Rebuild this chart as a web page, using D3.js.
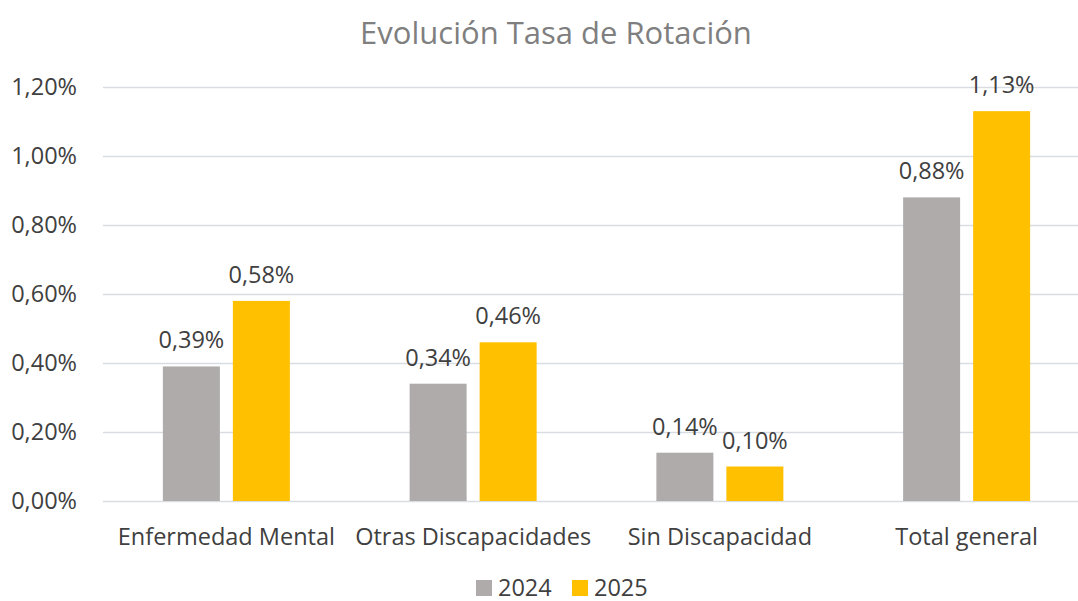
<!DOCTYPE html>
<html>
<head>
<meta charset="utf-8">
<script src="https://cdn.jsdelivr.net/npm/d3@7"></script>
<style>
  body { margin: 0; background: #fff; }
  svg { display: block; }
  svg text { font-family: "Open Sans", sans-serif; }
</style>
</head>
<body>
<div id="chart"></div>
<script>
// data
const categories = ["Enfermedad Mental", "Otras Discapacidades", "Sin Discapacidad", "Total general"];
const years = ["2024", "2025"];
const values2024 = [0.39, 0.34, 0.14, 0.88];
const values2025 = [0.58, 0.46, 0.10, 1.13];
const yTicks = [0, 0.2, 0.4, 0.6, 0.8, 1.0, 1.2];
const colors = ["#afabab", "#ffc000"];

const width = 1078, height = 601;
const margin = {top: 87, left: 103, right: -12, bottom: 100};

const rows = categories.map((c, i) => ({cat: c, vals: [values2024[i], values2025[i]]}));
const fmt = v => d3.format(".2f")(v).replace(".", ",") + "%";

const svg = d3.select("#chart").append("svg")
    .attr("width", width)
    .attr("height", height);

const y = d3.scaleLinear()
    .domain([0, 1.2])
    .range([height - margin.bottom, margin.top]);

const x0 = d3.scaleBand()
    .domain(categories)
    .range([margin.left, width - margin.right]);

const x1 = d3.scaleBand()
    .domain(years)
    .range([-63.5, 63.5])
    .paddingInner(0.1857);

// title
svg.append("text")
    .attr("x", 556)
    .attr("y", 44)
    .attr("text-anchor", "middle")
    .attr("fill", "#7f7f7f")
    .style("font-size", "31px")
    .text("Evolución Tasa de Rotación");

// gridlines + y labels
const yAxis = svg.append("g")
    .attr("transform", `translate(${margin.left},0)`)
    .call(d3.axisLeft(y).tickValues(yTicks).tickFormat(fmt)
        .tickSize(-(width - margin.right - margin.left)).tickPadding(26));
yAxis.select(".domain").remove();
yAxis.selectAll("line").attr("stroke", "#d9dde2").attr("stroke-width", 1.5);
yAxis.selectAll("text")
    .attr("fill", "#404040")
    .style("font-family", "'Open Sans', sans-serif")
    .style("font-size", "23.5px");

// bars
const group = svg.selectAll("g.cat")
    .data(rows)
    .enter().append("g")
      .attr("class", "cat")
      .attr("transform", d => `translate(${x0(d.cat) + x0.bandwidth() / 2},0)`);

const bar = group.selectAll("g.bar")
    .data(d => d.vals.map((v, i) => ({year: years[i], v: v, i: i})))
    .enter().append("g");

bar.append("rect")
    .attr("x", d => x1(d.year))
    .attr("y", d => y(d.v))
    .attr("width", x1.bandwidth())
    .attr("height", d => y(0) - y(d.v))
    .attr("fill", d => colors[d.i]);

bar.append("text")
    .attr("x", d => x1(d.year) + x1.bandwidth() / 2)
    .attr("y", d => y(d.v) - 18)
    .attr("text-anchor", "middle")
    .attr("fill", "#404040")
    .style("font-size", "23.5px")
    .text(d => fmt(d.v));

// category labels
svg.append("g").selectAll("text")
    .data(categories)
    .enter().append("text")
      .attr("x", d => x0(d) + x0.bandwidth() / 2)
      .attr("y", 545)
      .attr("text-anchor", "middle")
      .attr("fill", "#404040")
      .style("font-size", "23.5px")
      .text(d => d);

// legend
const legendX = [476, 572];
const legend = svg.append("g").selectAll("g")
    .data(years)
    .enter().append("g")
      .attr("transform", (d, i) => `translate(${legendX[i]},580)`);
legend.append("rect")
    .attr("width", 16)
    .attr("height", 16)
    .attr("fill", (d, i) => colors[i]);
legend.append("text")
    .attr("x", 22)
    .attr("y", 16)
    .attr("fill", "#404040")
    .style("font-size", "23.5px")
    .text(d => d);
</script>
</body>
</html>
